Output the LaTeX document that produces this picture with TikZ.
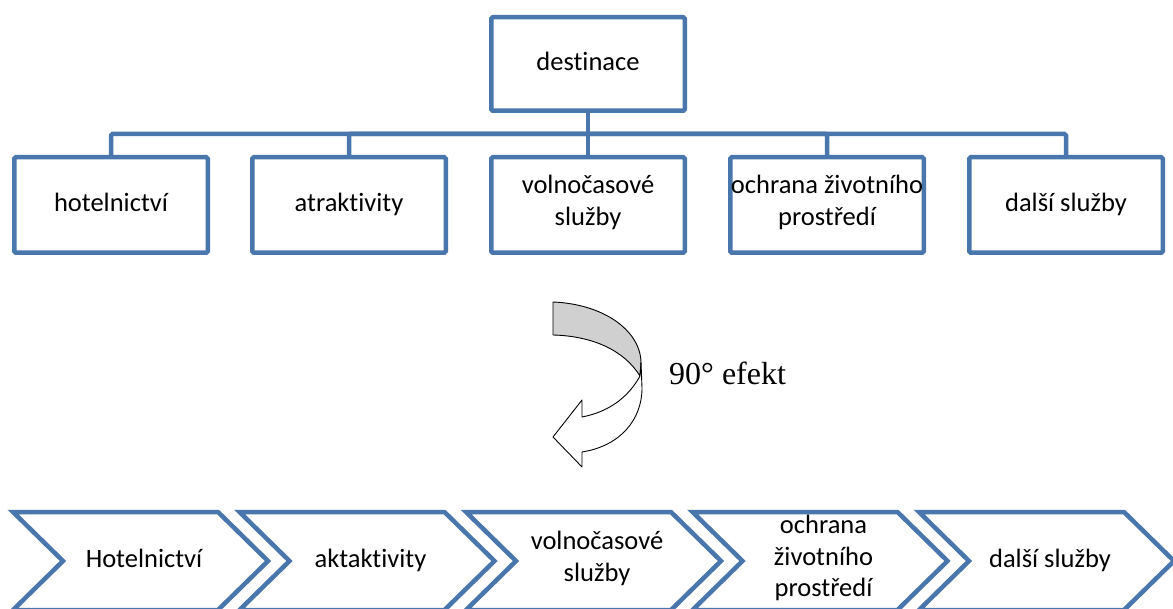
\documentclass[tikz,border=0pt]{standalone}
\usepackage{fontspec}
\setmainfont{Carlito}[RawFeature={-liga;-clig;-calt;-dlig}]
\newfontfamily\timesfont{Liberation Serif}
\definecolor{bl}{RGB}{72,118,173}
\definecolor{gr}{RGB}{208,208,208}
\begin{document}
\begin{tikzpicture}[x=1pt,y=-1pt,
  box/.style={draw=bl, line width=4.5pt, rounded corners=1.5pt, minimum width=193.5pt, minimum height=95.5pt, align=center, inner sep=0pt, font=\fontsize{26.5}{31.5}\selectfont, execute at begin node=\strut, execute at end node=\strut},
  conn/.style={draw=bl, line width=4.5pt, rounded corners=1.5pt},
  chev/.style={draw=bl, line width=4.5pt, line join=miter},
  lab/.style={align=center, inner sep=0pt, font=\fontsize{26.5}{31.5}\selectfont, execute at begin node=\strut, execute at end node=\strut},
  ribbon/.style={draw=black, line width=0.9pt, line join=round}]
\useasboundingbox (0,0) rectangle (1173,609);
\clip (0,0) rectangle (1173,609);
% hierarchy
\node[box, minimum height=93.5pt] (dest) at (588,64) {destinace};
\node[box] (c1) at (111,205) {hotelnictví};
\node[box] (c2) at (349,205) {atraktivity};
\node[box] (c3) at (588,205) {volnočasové\\služby};
\node[box] (c4) at (827,205) {ochrana životního\\prostředí};
\node[box] (c5) at (1066,205) {další služby};
\coordinate (bus) at (588,134);
\draw[conn] (dest.south) -- (bus);
\foreach \c in {c1,c2,c3,c4,c5} \draw[conn] (bus) -| (\c.north);
% curved arrow
\draw[ribbon, fill=gr] (553,302) .. controls (603,304) and (640,330) .. (641,362) -- (640,376)
  .. controls (624,350) and (592,336) .. (553,335) -- cycle;
\draw[ribbon, fill=white] (640,376) .. controls (628,398) and (608,412) .. (582,417) -- (582,400) -- (553,437) -- (582,467) -- (582,452)
  .. controls (620,446) and (642,420) .. (642,388) -- (641,362) -- cycle;
\node[anchor=base west, inner sep=0pt, font=\timesfont\fontsize{32}{38}\selectfont] (eff) at (669,385) {90° efekt};
% chevrons
\foreach \i/\t [count=\k] in {0/Hotelnictví, 1/aktaktivity, 2/{volnočasové\\služby}, 3/{ochrana\\životního\\prostředí}, 4/další služby}{
  \pgfmathsetmacro{\xo}{13+226.5*\i}
  \draw[chev] (\xo,512) -- (\xo+205,512) -- (\xo+255,561) -- (\xo+205,610) -- (\xo,610) -- (\xo+50,561) -- cycle;
  \node[lab] (p\k) at (\xo+131,561) {\t};
}
\end{tikzpicture}
\end{document}
